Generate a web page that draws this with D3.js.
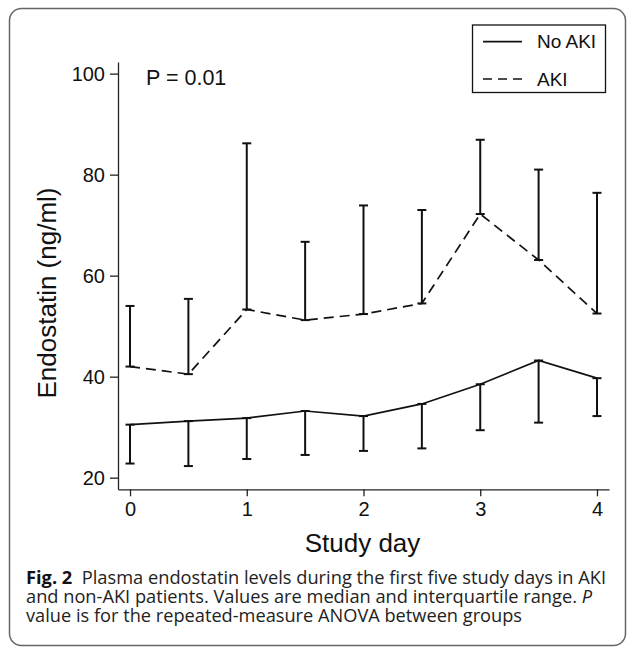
<!DOCTYPE html>
<html>
<head>
<meta charset="utf-8">
<script src="https://d3js.org/d3.v7.min.js"></script>
<style>
  body { margin: 0; background: #fff; }
  svg { display: block; }
</style>
</head>
<body>
<div id="chart"></div>
<script>
// study days (half-day steps) and the two groups
var days = [0, 0.5, 1, 1.5, 2, 2.5, 3, 3.5, 4];
var noAkiMedian = [30.5, 31.2, 31.8, 33.2, 32.2, 34.6, 38.5, 43.2, 39.7];
var noAkiLower  = [22.8, 22.3, 23.7, 24.5, 25.3, 25.8, 29.4, 30.9, 32.2];
var akiMedian   = [42.0, 40.5, 53.3, 51.2, 52.4, 54.5, 72.2, 63.1, 52.5];
var akiUpper    = [54.0, 55.4, 86.2, 66.7, 73.9, 73.0, 86.9, 81.0, 76.4];
var xTicks = [0, 1, 2, 3, 4];
var yTicks = [20, 40, 60, 80, 100];
var legendLabels = ["No AKI", "AKI"];
var captionLines = [
  ["Fig. 2", "  Plasma endostatin levels during the first five study days in AKI"],
  ["", "and non-AKI patients. Values are median and interquartile range. ", "P"],
  ["", "value is for the repeated-measure ANOVA between groups"]
];

var W = 627, H = 649;
var svg = d3.select("#chart").append("svg").attr("width", W).attr("height", H);
var font = "'Liberation Sans', Arial, Helvetica, sans-serif";

// outer frame
svg.append("rect").attr("x", 9.5).attr("y", 8.5).attr("width", 616).attr("height", 637)
  .attr("rx", 12).attr("fill", "none").attr("stroke", "#666").attr("stroke-width", 1.5);

var x = d3.scaleLinear().domain([-0.103, 4.103]).range([118, 609]);
var y = d3.scaleLinear().domain([17.7, 102.3]).range([489.3, 62]);

var yAxis = svg.append("g").attr("transform", "translate(118,0)")
  .call(d3.axisLeft(y).tickValues(yTicks).tickSize(8).tickSizeOuter(0).tickPadding(5));
var xAxis = svg.append("g").attr("transform", "translate(0,489.3)")
  .call(d3.axisBottom(x).tickValues(xTicks).tickFormat(d3.format("d"))
    .tickSize(7).tickSizeOuter(0).tickPadding(6));
[yAxis, xAxis].forEach(function(a) {
  a.selectAll("path, line").attr("stroke", "#222").attr("stroke-width", 1.3);
  a.selectAll("text").attr("font-family", font).attr("font-size", 20).attr("fill", "#111");
});

// axis titles
svg.append("text").attr("transform", "translate(56,293) rotate(-90)")
  .attr("text-anchor", "middle").attr("font-family", font).attr("font-size", 26)
  .attr("fill", "#111").text("Endostatin (ng/ml)");
svg.append("text").attr("x", 362.5).attr("y", 552).attr("text-anchor", "middle")
  .attr("font-family", font).attr("font-size", 26).attr("fill", "#111").text("Study day");

svg.append("text").attr("x", 146).attr("y", 85).attr("font-family", font)
  .attr("font-size", 21.5).attr("fill", "#111").text("P = 0.01");

// error bars: AKI upward to upper quartile, No AKI downward to lower quartile
function bars(med, other) {
  var g = svg.append("g").attr("stroke", "#111").attr("stroke-width", 2).attr("fill", "none");
  days.forEach(function(d, i) {
    var cx = x(d);
    g.append("line").attr("x1", cx).attr("x2", cx).attr("y1", y(med[i])).attr("y2", y(other[i]));
    g.append("line").attr("x1", cx - 4.5).attr("x2", cx + 4.5).attr("y1", y(other[i])).attr("y2", y(other[i]));
    g.append("line").attr("x1", cx - 4.5).attr("x2", cx + 4.5).attr("y1", y(med[i])).attr("y2", y(med[i]));
  });
}
bars(akiMedian, akiUpper);
bars(noAkiMedian, noAkiLower);

var line = d3.line().x(function(d) { return x(d[0]); }).y(function(d) { return y(d[1]); });
svg.append("path").datum(d3.zip(days, noAkiMedian)).attr("d", line)
  .attr("fill", "none").attr("stroke", "#111").attr("stroke-width", 1.7);
svg.append("path").datum(d3.zip(days, akiMedian)).attr("d", line)
  .attr("fill", "none").attr("stroke", "#111").attr("stroke-width", 1.7)
  .attr("stroke-dasharray", "10,6");

// legend
var lg = svg.append("g");
lg.append("rect").attr("x", 472.5).attr("y", 25).attr("width", 133).attr("height", 67.5)
  .attr("fill", "#fff").attr("stroke", "#111").attr("stroke-width", 1.3);
legendLabels.forEach(function(lab, i) {
  var ly = 41.7 + i * 37.3;
  lg.append("line").attr("x1", 483).attr("x2", 522).attr("y1", ly).attr("y2", ly)
    .attr("stroke", "#111").attr("stroke-width", 1.7)
    .attr("stroke-dasharray", i == 1 ? "9,6" : null);
  lg.append("text").attr("x", 537).attr("y", ly + 6.5).attr("font-family", font)
    .attr("font-size", 19).attr("fill", "#111").text(lab);
});

// caption
var capWidths = [580, 566, 496];
captionLines.forEach(function(parts, i) {
  var t = svg.append("text").attr("x", 26).attr("y", 584 + i * 19.2)
    .attr("font-family", "'Open Sans', 'Noto Sans', sans-serif").attr("font-size", 17.5)
    .attr("fill", "#222").attr("textLength", capWidths[i]).attr("lengthAdjust", "spacingAndGlyphs")
    .style("white-space", "pre");
  if (parts[0]) t.append("tspan").attr("font-weight", "bold").attr("fill", "#111").text(parts[0]);
  t.append("tspan").text(parts[1]);
  if (parts[2]) t.append("tspan").attr("font-style", "italic").text(parts[2]);
});
</script>
</body>
</html>
